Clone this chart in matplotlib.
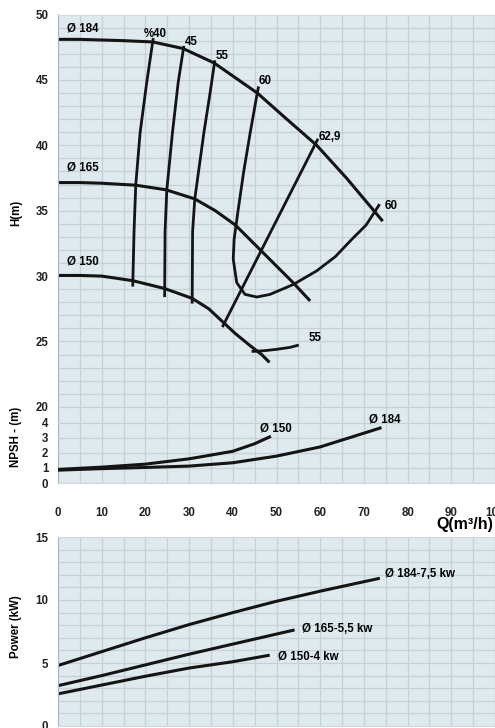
import numpy as np
import matplotlib
matplotlib.use('Agg')
import matplotlib.pyplot as plt

plt.rcParams['font.family'] = ['Liberation Sans', 'DejaVu Sans']
plt.rcParams['font.weight'] = 'bold'

# Head curves H(m) vs Q(m3/h)
q_184 = [0, 5, 10, 15, 21.7, 28.6, 35.7, 40, 45.6, 52, 59.2, 66, 74.3]
h_184 = [48.1, 48.1, 48.05, 48.0, 47.9, 47.4, 46.3, 45.3, 44.0, 42.1, 40.0, 37.5, 34.2]
q_165 = [0, 5, 10, 17.8, 24.7, 31.3, 36, 40.6, 46.6, 53.8, 57.7]
h_165 = [37.15, 37.15, 37.1, 36.95, 36.6, 35.9, 35.0, 33.9, 31.9, 29.5, 28.1]
q_150 = [0, 5, 10, 17.1, 24.4, 30.7, 34.5, 37.7, 40.6, 43.9, 46.6, 48.4]
h_150 = [30.05, 30.05, 30.0, 29.65, 29.05, 28.3, 27.5, 26.5, 25.6, 24.7, 24.0, 23.4]

# Iso-efficiency lines
q_e40 = [21.8, 20.3, 18.8, 17.8, 17.4, 17.1]
h_e40 = [48.2, 44.8, 41.0, 37.0, 33.4, 29.2]
q_e45 = [28.8, 27.5, 26.2, 24.9, 24.5, 24.4]
h_e45 = [47.6, 44.8, 41.0, 36.6, 33.4, 28.4]
q_e55 = [35.9, 34.8, 33.4, 31.3, 30.8, 30.7]
h_e55 = [46.5, 44.0, 41.0, 35.9, 33.4, 27.9]
q_e60 = [45.9, 45.6, 44.0, 42.5, 41.2, 40.3, 40.1, 40.9, 42.8, 45.5, 48.5, 53.8, 59.2, 63.5, 67.2, 70.5, 73.6]
h_e60 = [44.5, 44.0, 41.0, 38.0, 35.0, 32.8, 31.3, 29.5, 28.6, 28.4, 28.6, 29.35, 30.4, 31.5, 32.8, 33.9, 35.5]
q_e629 = [59.5, 37.6]
h_e629 = [40.5, 26.1]
q_e55b = [44.3, 47.0, 50.0, 53.1, 55.1]
h_e55b = [24.24, 24.29, 24.4, 24.55, 24.73]

# NPSH curves
q_n150 = [0, 10, 20, 30, 40, 45, 48.4]
n_150 = [0.9, 1.05, 1.25, 1.6, 2.1, 2.6, 3.05]
q_n184 = [0, 10, 20, 30, 40, 50, 60, 70, 73.7]
n_184 = [0.85, 0.95, 1.03, 1.12, 1.34, 1.78, 2.39, 3.3, 3.64]

# Power curves
q_p184 = [0, 10, 20, 30, 40, 50, 60, 73.3]
p_184 = [4.8, 5.9, 7.0, 8.05, 9.0, 9.9, 10.7, 11.7]
q_p165 = [0, 10, 20, 30, 40, 53.8]
p_165 = [3.2, 4.0, 4.85, 5.7, 6.5, 7.6]
q_p150 = [0, 10, 20, 30, 40, 48.1]
p_150 = [2.55, 3.25, 3.95, 4.6, 5.1, 5.6]

W, H = 495, 728
BG = '#dfeaef'
GRID = '#c6d0d6'
LINE = '#141414'
LW = 2.2
FS = 8.3


def box(l, t, r, b):
    return [l / W, 1 - b / H, (r - l) / W, (b - t) / H]


def bold_ticks(ax):
    for lab in ax.get_xticklabels() + ax.get_yticklabels():
        lab.set_fontweight('bold')


def style(ax):
    ax.set_facecolor(BG)
    ax.set_xlim(0, 100)
    ax.set_xticks(np.arange(0, 101, 5), minor=True)
    ax.grid(True, which='both', axis='x', color=GRID, lw=0.9)
    ax.tick_params(which='both', length=0, labelsize=FS, colors='#222222', pad=7)
    ax.spines['right'].set_visible(False)
    ax.spines['left'].set_color('#aab6bd')
    ax.spines['top'].set_color('#d2d9dd')
    ax.spines['bottom'].set_color('#d2d9dd')
    ax.set_axisbelow(True)


fig = plt.figure(figsize=(W / 100, H / 100), dpi=100)

# --- Head panel ---
ax = fig.add_axes(box(58, 14.5, 495, 483))
style(ax)
ax.set_ylim(50 - 468.5 / 13.08, 50)
ax.set_yticks(np.arange(20, 51, 5))
ax.set_yticks(np.arange(20, 51, 1), minor=True)
ax.grid(True, which='both', axis='y', color=GRID, lw=0.9)
ax.set_xticks(np.arange(0, 101, 10))
ax.tick_params(axis='x', pad=17)
bold_ticks(ax)

for q, h in [(q_184, h_184), (q_165, h_165), (q_150, h_150)]:
    ax.plot(q, h, color=LINE, lw=LW, solid_capstyle='butt', solid_joinstyle='round')
for q, h in [(q_e40, h_e40), (q_e45, h_e45), (q_e55, h_e55), (q_e60, h_e60),
             (q_e629, h_e629), (q_e55b, h_e55b)]:
    ax.plot(q, h, color=LINE, lw=2.0, solid_capstyle='butt', solid_joinstyle='round')

ax.text(2.0, 48.95, 'Ø 184', fontsize=FS, va='center')
ax.text(2.0, 38.3, 'Ø 165', fontsize=FS, va='center')
ax.text(2.0, 31.15, 'Ø 150', fontsize=FS, va='center')
ax.text(19.7, 48.5, '%40', fontsize=FS, va='center')
ax.text(29.1, 47.9, '45', fontsize=FS, va='center')
ax.text(36.1, 46.8, '55', fontsize=FS, va='center')
ax.text(46.0, 44.9, '60', fontsize=FS, va='center')
ax.text(59.7, 40.65, '62,9', fontsize=FS, va='center')
ax.text(74.7, 35.35, '60', fontsize=FS, va='center')
ax.text(57.4, 25.3, '55', fontsize=FS, va='center')

# --- NPSH overlay ---
axn = fig.add_axes(box(58, 408, 495, 483))
axn.set_facecolor('none')
axn.set_xlim(0, 100)
axn.set_ylim(0, 75 / 15.1)
axn.set_yticks(np.arange(0, 5, 1))
axn.set_xticks([])
axn.grid(True, axis='y', color=GRID, lw=0.9)
axn.tick_params(length=0, labelsize=FS, colors='#222222', pad=7)
bold_ticks(axn)
for s in axn.spines.values():
    s.set_visible(False)
axn.plot(q_n150, n_150, color=LINE, lw=LW, solid_joinstyle='round')
axn.plot(q_n184, n_184, color=LINE, lw=LW, solid_joinstyle='round')
axn.text(46.2, 3.6, 'Ø 150', fontsize=FS, va='center')
axn.text(71.2, 4.19, 'Ø 184', fontsize=FS, va='center')

# --- Power panel ---
axp = fig.add_axes(box(58, 537, 495, 726))
style(axp)
axp.set_ylim(0, 15)
axp.set_yticks([0, 5, 10, 15])
axp.set_yticks(np.arange(0, 16, 1), minor=True)
axp.grid(True, which='both', axis='y', color=GRID, lw=0.9)
axp.set_xticks(np.arange(0, 101, 10))
axp.tick_params(axis='x', labelbottom=False)
bold_ticks(axp)
axp.plot(q_p184, p_184, color=LINE, lw=LW, solid_joinstyle='round')
axp.plot(q_p165, p_165, color=LINE, lw=LW, solid_joinstyle='round')
axp.plot(q_p150, p_150, color=LINE, lw=LW, solid_joinstyle='round')
axp.text(74.8, 12.1, 'Ø 184-7,5 kw', fontsize=FS, va='center')
axp.text(55.8, 7.7, 'Ø 165-5,5 kw', fontsize=FS, va='center')
axp.text(50.4, 5.5, 'Ø 150-4 kw', fontsize=FS, va='center')

# axis titles
fig.text(16 / W, 1 - 213 / H, 'H(m)', rotation=90, ha='center', va='center', fontsize=FS)
fig.text(16 / W, 1 - 437 / H, 'NPSH - (m)', rotation=90, ha='center', va='center', fontsize=FS)
fig.text(16 / W, 1 - 627 / H, 'Power (kW)', rotation=90, ha='center', va='center', fontsize=FS)
fig.text(493 / W, 1 - 525 / H, 'Q(m³/h)', ha='right', va='center', fontsize=11.5)

fig.savefig('out.png', dpi=100, facecolor='white')
